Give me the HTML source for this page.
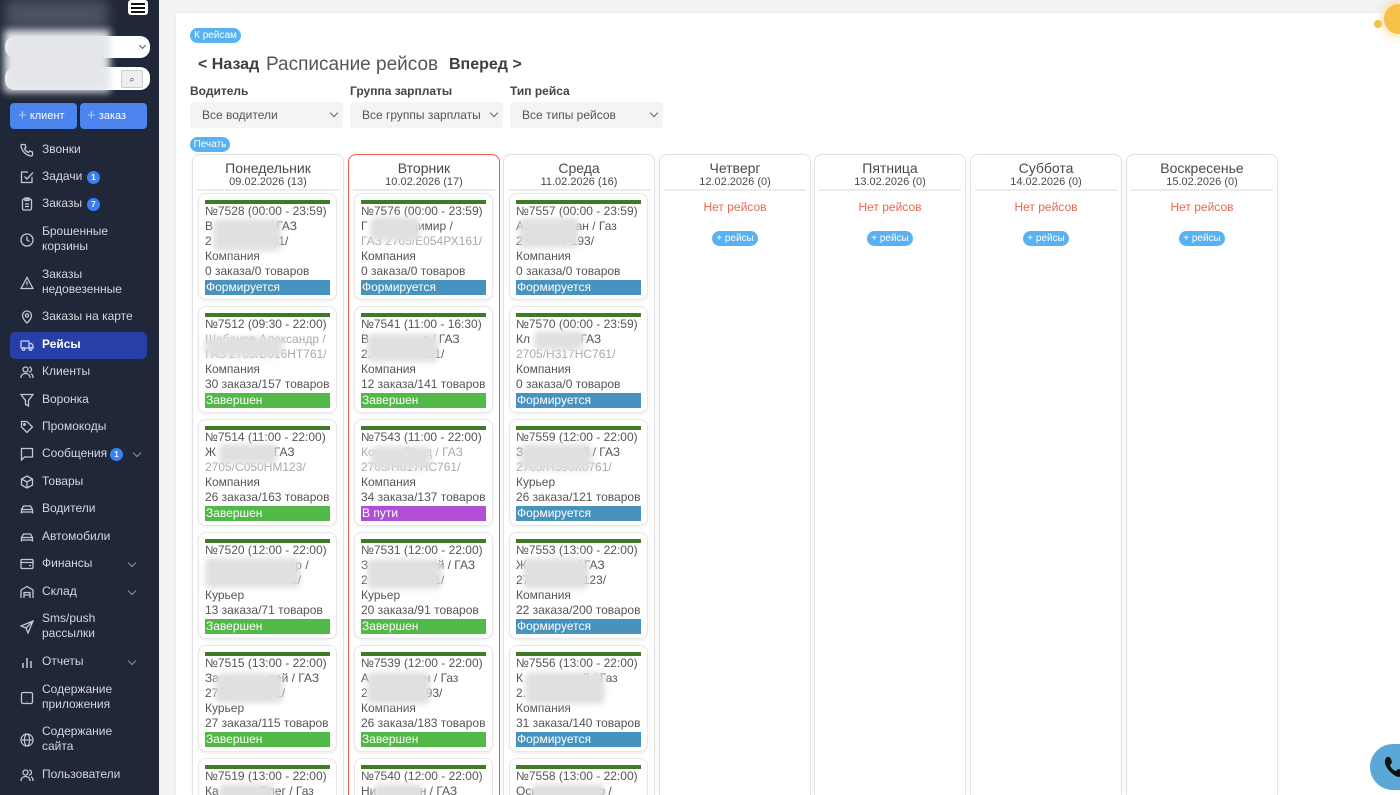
<!DOCTYPE html>
<html><head><meta charset="utf-8">
<style>
*{margin:0;padding:0;box-sizing:border-box}
html,body{width:1400px;height:795px;overflow:hidden;background:#f3f3f4;font-family:"Liberation Sans",sans-serif}
#root{position:relative;width:1400px;height:795px;overflow:hidden;background:#f3f3f4}
.sb{position:absolute;left:0;top:0;width:159px;height:795px;background:#1f2738}
.mi{position:absolute;left:42px;font-size:12px;line-height:15px;color:#d3d7de;white-space:nowrap}
.ic{position:absolute;left:20px;width:14px;height:14px}
.ic svg{width:14px;height:14px;display:block}
.bd{position:absolute;width:13px;height:13px;border-radius:50%;background:#3c7ff0;color:#fff;font-size:8px;font-weight:bold;line-height:13px;text-align:center}
.chev{position:absolute;width:6px;height:6px;border-right:1.2px solid #8c93a0;border-bottom:1.2px solid #8c93a0;transform:rotate(45deg)}
.main{position:absolute;left:175px;top:12px;width:1225px;height:783px;background:#fff;border:1px solid #ececec;border-right:none;border-bottom:none;border-radius:4px 0 0 0}
.pill{position:absolute;background:#58b2f2;color:#fff;font-size:10px;border-radius:8px;text-align:center}
.lbl{position:absolute;top:84px;font-size:12px;font-weight:bold;color:#444}
.sel{position:absolute;top:102px;width:153px;height:26px;background:#f4f4f5;border-radius:3px;font-size:12px;color:#555;line-height:26px;padding-left:12px}
.sel:after{content:"";position:absolute;right:6px;top:8px;width:5px;height:5px;border-right:1.2px solid #666;border-bottom:1.2px solid #666;transform:rotate(45deg)}
.col{position:absolute;top:154px;width:152px;height:641px;border:1px solid #e2e2e2;border-bottom:none;border-radius:8px 8px 0 0;background:#fff;box-shadow:0 0 3px rgba(0,0,0,.06);overflow:hidden}
.col.red{border:1.5px solid #e8604c;border-bottom:none}
.dn{position:absolute;left:0;right:0;top:5px;text-align:center;font-size:14px;color:#4a4a4a;line-height:16px}
.dd{position:absolute;left:0;right:0;top:21px;text-align:center;font-size:11px;color:#4a4a4a;line-height:13px}
.sep{position:absolute;left:4px;right:4px;top:34px;height:2px;background:#ececec}
.none{position:absolute;left:0;right:0;top:45px;text-align:center;font-size:12px;color:#e9664f}
.plus{position:absolute;top:76px;left:52px;width:46px;height:15px;line-height:15px;background:#58b2f2;color:#fff;font-size:10px;border-radius:8px;text-align:center}
.card{position:absolute;left:5px;width:139px;height:107px;border:1px solid #e7e7e7;border-radius:8px;padding:6px 6px 0 6px;background:#fff;box-shadow:0 1px 3px rgba(0,0,0,.08);overflow:hidden}
.card.last{height:38px;border-bottom:none;border-radius:8px 8px 0 0;box-shadow:none}
.gb{height:4px;background:#3f7a24}
.t{font-size:12px;line-height:15px;color:#555;white-space:nowrap;overflow:hidden}
.fd{color:#a9a9a9}
.st{margin-top:1px;height:15px;font-size:12px;line-height:15px;color:#fff;padding-left:1px}
.f{background:#4893be}.z{background:#52b848}.v{background:#b04fd6}
.bl{position:absolute;background:#e0e0e0;filter:blur(3px);border-radius:6px}
</style></head><body><div id="root">

<div class="sb">
  <div style="position:absolute;left:5px;top:0;width:103px;height:28px;background:#4b5260;filter:blur(6px)"></div>
  <div style="position:absolute;left:128px;top:0;width:20px;height:15px;background:#fff;border-radius:3px"></div>
  <div style="position:absolute;left:131px;top:3px;width:14px;height:2px;background:#111"></div>
  <div style="position:absolute;left:131px;top:7px;width:14px;height:2px;background:#111"></div>
  <div style="position:absolute;left:131px;top:11px;width:14px;height:2px;background:#111"></div>
  <div style="position:absolute;left:5px;top:36px;width:145px;height:22px;background:#fff;border-radius:10px"></div>
  <div style="position:absolute;left:140px;top:43px;width:5px;height:5px;border-right:1.2px solid #555;border-bottom:1.2px solid #555;transform:rotate(45deg)"></div>
  <div style="position:absolute;left:5px;top:67px;width:145px;height:23px;background:#fff;border-radius:10px"></div>
  <div style="position:absolute;left:121px;top:70px;width:22px;height:18px;background:#eee;border:1px solid #ccc;border-radius:2px;font-size:9px;text-align:center;line-height:16px;color:#333">&#x2315;</div>
  <div style="position:absolute;left:4px;top:30px;width:106px;height:62px;background:#e4e6ea;filter:blur(4px)"></div>
  <div style="position:absolute;left:10px;top:103px;width:67px;height:26px;background:#4a84ec;border-radius:4px;color:#fff;font-size:11px;line-height:26px;padding-left:8px"><span style="font-size:15px;color:#b7cdf7;vertical-align:-1px">+</span> клиент</div>
  <div style="position:absolute;left:80px;top:103px;width:67px;height:26px;background:#4a84ec;border-radius:4px;color:#fff;font-size:11px;line-height:26px;padding-left:7px"><span style="font-size:15px;color:#b7cdf7;vertical-align:-1px">+</span> заказ</div>

  <div style="position:absolute;left:10px;top:332px;width:137px;height:27px;background:#273fa6;border-radius:5px"></div>

  <div class="ic" style="top:143px"><svg viewBox="0 0 14 14" fill="none" stroke="#c3c8d1" stroke-width="1.3"><path d="M2 1.5h3l1 3-1.5 1a7 7 0 0 0 4 4l1-1.5 3 1v3c0 .5-.5 1-1 1C6 12.5 1.5 8 1 2.5c0-.5.5-1 1-1z"/></svg></div>
  <div class="mi" style="top:142px">Звонки</div>

  <div class="ic" style="top:170px"><svg viewBox="0 0 14 14" fill="none" stroke="#c3c8d1" stroke-width="1.3"><path d="M12 7v5.5H1.5V2H8"/><path d="M4.5 6.5l2.5 2.5 6-6.5"/></svg></div>
  <div class="mi" style="top:169px">Задачи</div><div class="bd" style="left:87px;top:171px">1</div>

  <div class="ic" style="top:197px"><svg viewBox="0 0 14 14" fill="none" stroke="#c3c8d1" stroke-width="1.3"><rect x="2.5" y="2" width="9" height="11" rx="1.5"/><rect x="5" y="1" width="4" height="2.5"/><path d="M5 7h4M5 9.5h4"/></svg></div>
  <div class="mi" style="top:196px">Заказы</div><div class="bd" style="left:87px;top:198px">7</div>

  <div class="ic" style="top:233px"><svg viewBox="0 0 14 14" fill="none" stroke="#c3c8d1" stroke-width="1.3"><circle cx="7" cy="7" r="6"/><path d="M7 3.5V7l2.5 1.5"/></svg></div>
  <div class="mi" style="top:224px">Брошенные<br>корзины</div>

  <div class="ic" style="top:276px"><svg viewBox="0 0 14 14" fill="none" stroke="#c3c8d1" stroke-width="1.3"><path d="M7 1.5L13 12.5H1z"/><path d="M7 5.5v3.5M7 10.5v.5"/></svg></div>
  <div class="mi" style="top:267px">Заказы<br>недовезенные</div>

  <div class="ic" style="top:310px"><svg viewBox="0 0 14 14" fill="none" stroke="#c3c8d1" stroke-width="1.3"><path d="M7 13s-4.5-4-4.5-7.5a4.5 4.5 0 0 1 9 0C11.5 9 7 13 7 13z"/><circle cx="7" cy="5.5" r="1.6"/></svg></div>
  <div class="mi" style="top:309px">Заказы на карте</div>

  <div class="ic" style="top:338px"><svg viewBox="0 0 14 14" fill="none" stroke="#c9d3f5" stroke-width="1.3"><rect x="1" y="3" width="8" height="7" rx="1"/><path d="M9 5.5h2.5l1.5 2v2.5H9"/><circle cx="3.5" cy="11" r="1.3"/><circle cx="10.5" cy="11" r="1.3"/></svg></div>
  <div class="mi" style="top:337px;color:#fff;font-weight:bold">Рейсы</div>

  <div class="ic" style="top:365px"><svg viewBox="0 0 14 14" fill="none" stroke="#c3c8d1" stroke-width="1.3"><circle cx="5.5" cy="4.5" r="2.5"/><path d="M1 13c0-3 2-4.5 4.5-4.5S10 10 10 13"/><path d="M9 2a2.5 2.5 0 0 1 0 5M11 8.7c1.3.6 2 2 2 4.3"/></svg></div>
  <div class="mi" style="top:364px">Клиенты</div>

  <div class="ic" style="top:393px"><svg viewBox="0 0 14 14" fill="none" stroke="#c3c8d1" stroke-width="1.3"><path d="M1 1.5h12L8.5 7.5V13l-3-1.5v-4z"/></svg></div>
  <div class="mi" style="top:392px">Воронка</div>

  <div class="ic" style="top:420px"><svg viewBox="0 0 14 14" fill="none" stroke="#c3c8d1" stroke-width="1.3"><path d="M1.5 1.5h5.5l5.5 5.5-5.5 5.5-5.5-5.5z"/><circle cx="4.5" cy="4.5" r=".8"/></svg></div>
  <div class="mi" style="top:419px">Промокоды</div>

  <div class="ic" style="top:447px"><svg viewBox="0 0 14 14" fill="none" stroke="#c3c8d1" stroke-width="1.3"><path d="M1.5 1.5h11v8.5H4.5L1.5 13z"/></svg></div>
  <div class="mi" style="top:446px">Сообщения</div><div class="bd" style="left:110px;top:448px">1</div><div class="chev" style="left:134px;top:450px"></div>

  <div class="ic" style="top:475px"><svg viewBox="0 0 14 14" fill="none" stroke="#c3c8d1" stroke-width="1.3"><path d="M7 1l5.5 3v6L7 13l-5.5-3V4z"/><path d="M1.5 4L7 7l5.5-3M7 7v6"/></svg></div>
  <div class="mi" style="top:474px">Товары</div>

  <div class="ic" style="top:502px"><svg viewBox="0 0 14 14" fill="none" stroke="#c3c8d1" stroke-width="1.3"><path d="M1.5 10V7.5L3.5 4h7l2 3.5V10z"/><path d="M1.5 10v1.5M12.5 10v1.5M1.5 7.5h11"/></svg></div>
  <div class="mi" style="top:501px">Водители</div>

  <div class="ic" style="top:530px"><svg viewBox="0 0 14 14" fill="none" stroke="#c3c8d1" stroke-width="1.3"><path d="M1.5 10V7.5L3.5 4h7l2 3.5V10z"/><path d="M1.5 10v1.5M12.5 10v1.5M1.5 7.5h11"/></svg></div>
  <div class="mi" style="top:529px">Автомобили</div>

  <div class="ic" style="top:557px"><svg viewBox="0 0 14 14" fill="none" stroke="#c3c8d1" stroke-width="1.3"><rect x="1" y="2.5" width="12" height="9" rx="1"/><path d="M1 5.5h12M9 8.5h2"/></svg></div>
  <div class="mi" style="top:556px">Финансы</div><div class="chev" style="left:129px;top:560px"></div>

  <div class="ic" style="top:585px"><svg viewBox="0 0 14 14" fill="none" stroke="#c3c8d1" stroke-width="1.3"><path d="M1 5L7 1.5 13 5v8M1 5v8"/><path d="M4 13V7.5h6V13M4 10h6"/></svg></div>
  <div class="mi" style="top:584px">Склад</div><div class="chev" style="left:129px;top:588px"></div>

  <div class="ic" style="top:620px"><svg viewBox="0 0 14 14" fill="none" stroke="#c3c8d1" stroke-width="1.3"><path d="M13 1L1 6l5 2 2 5z"/><path d="M6 8l7-7"/></svg></div>
  <div class="mi" style="top:611px">Sms/push<br>рассылки</div>

  <div class="ic" style="top:655px"><svg viewBox="0 0 14 14" fill="none" stroke="#c3c8d1" stroke-width="1.5"><path d="M3 13V8M7 13V3M11 13V6"/></svg></div>
  <div class="mi" style="top:654px">Отчеты</div><div class="chev" style="left:129px;top:658px"></div>

  <div class="ic" style="top:691px"><svg viewBox="0 0 14 14" fill="none" stroke="#c3c8d1" stroke-width="1.3"><rect x="1.5" y="1.5" width="11" height="11" rx="1.5"/><path d="M7 10v.5"/></svg></div>
  <div class="mi" style="top:682px">Содержание<br>приложения</div>

  <div class="ic" style="top:733px"><svg viewBox="0 0 14 14" fill="none" stroke="#c3c8d1" stroke-width="1.2"><circle cx="7" cy="7" r="6"/><ellipse cx="7" cy="7" rx="2.6" ry="6"/><path d="M1 7h12"/></svg></div>
  <div class="mi" style="top:724px">Содержание<br>сайта</div>

  <div class="ic" style="top:768px"><svg viewBox="0 0 14 14" fill="none" stroke="#c3c8d1" stroke-width="1.3"><circle cx="5.5" cy="4.5" r="2.5"/><path d="M1 13c0-3 2-4.5 4.5-4.5S10 10 10 13"/><path d="M9 2a2.5 2.5 0 0 1 0 5M11 8.7c1.3.6 2 2 2 4.3"/></svg></div>
  <div class="mi" style="top:767px">Пользователи</div>
</div>

<div class="main"></div>

<div class="pill" style="left:190px;top:28px;width:51px;height:15px;line-height:15px">К рейсам</div>
<div style="position:absolute;left:198px;top:54px;font-size:16px;font-weight:bold;color:#3f3f3f;line-height:22px;white-space:nowrap">&lt; Назад</div>
<div style="position:absolute;left:266px;top:53px;font-size:19px;color:#555;line-height:24px;white-space:nowrap">Расписание рейсов</div>
<div style="position:absolute;left:449px;top:54px;font-size:16px;font-weight:bold;color:#3f3f3f;line-height:22px;white-space:nowrap">Вперед &gt;</div>

<div class="lbl" style="left:190px">Водитель</div>
<div class="lbl" style="left:350px">Группа зарплаты</div>
<div class="lbl" style="left:510px">Тип рейса</div>
<div class="sel" style="left:190px">Все водители</div>
<div class="sel" style="left:350px">Все группы зарплаты</div>
<div class="sel" style="left:510px">Все типы рейсов</div>

<div class="pill" style="left:190px;top:137px;width:40px;height:15px;line-height:15px">Печать</div>

<!-- Monday -->
<div class="col" style="left:192px">
  <div class="dn">Понедельник</div><div class="dd">09.02.2026 (13)</div><div class="sep"></div>
  <div class="card" style="top:38px"><div class="gb"></div>
    <div class="t">№7528 (00:00 - 23:59)</div><div class="t">В&nbsp;&nbsp;&nbsp;&nbsp;&nbsp;&nbsp;&nbsp;&nbsp;&nbsp;&nbsp;&nbsp;&nbsp;ия / ГАЗ</div><div class="t">2&nbsp;&nbsp;&nbsp;&nbsp;&nbsp;&nbsp;&nbsp;&nbsp;&nbsp;&nbsp;&nbsp;&nbsp;&nbsp;&nbsp;&nbsp;&nbsp;161/</div><div class="t">Компания</div><div class="t">0 заказа/0 товаров</div><div class="st f">Формируется</div>
    <div class="bl" style="left:14px;top:25px;width:68px;height:32px"></div></div>
  <div class="card" style="top:151px"><div class="gb"></div>
    <div class="t">№7512 (09:30 - 22:00)</div><div class="t fd">Шабанов Александр /</div><div class="t fd">ГАЗ 2705/В016НТ761/</div><div class="t">Компания</div><div class="t">30 заказа/157 товаров</div><div class="st z">Завершен</div>
    <div class="bl" style="left:6px;top:30px;width:78px;height:20px"></div></div>
  <div class="card" style="top:264px"><div class="gb"></div>
    <div class="t">№7514 (11:00 - 22:00)</div><div class="t">Ж&nbsp;&nbsp;&nbsp;&nbsp;&nbsp;&nbsp;&nbsp;&nbsp;&nbsp;&nbsp;&nbsp;&nbsp;&nbsp;г / ГАЗ</div><div class="t fd">2705/С050НМ123/</div><div class="t">Компания</div><div class="t">26 заказа/163 товаров</div><div class="st z">Завершен</div>
    <div class="bl" style="left:20px;top:24px;width:58px;height:20px"></div></div>
  <div class="card" style="top:377px"><div class="gb"></div>
    <div class="t">№7520 (12:00 - 22:00)</div><div class="t">&nbsp;&nbsp;&nbsp;&nbsp;&nbsp;&nbsp;&nbsp;&nbsp;&nbsp;&nbsp;&nbsp;&nbsp;&nbsp;&nbsp;&nbsp;&nbsp;&nbsp;&nbsp;&nbsp;&nbsp;&nbsp;&nbsp;&nbsp;ндр /</div><div class="t">&nbsp;&nbsp;&nbsp;&nbsp;&nbsp;&nbsp;&nbsp;&nbsp;&nbsp;&nbsp;&nbsp;&nbsp;&nbsp;&nbsp;&nbsp;&nbsp;&nbsp;&nbsp;&nbsp;&nbsp;&nbsp;&nbsp;&nbsp;l61/</div><div class="t">Курьер</div><div class="t">13 заказа/71 товаров</div><div class="st z">Завершен</div>
    <div class="bl" style="left:6px;top:25px;width:95px;height:30px"></div></div>
  <div class="card" style="top:490px"><div class="gb"></div>
    <div class="t">№7515 (13:00 - 22:00)</div><div class="t">За&nbsp;&nbsp;&nbsp;&nbsp;&nbsp;&nbsp;&nbsp;&nbsp;&nbsp;&nbsp;&nbsp;&nbsp;&nbsp;&nbsp;&nbsp;сей / ГАЗ</div><div class="t">27&nbsp;&nbsp;&nbsp;&nbsp;&nbsp;&nbsp;&nbsp;&nbsp;&nbsp;&nbsp;&nbsp;&nbsp;&nbsp;&nbsp;&nbsp;61/</div><div class="t">Курьер</div><div class="t">27 заказа/115 товаров</div><div class="st z">Завершен</div>
    <div class="bl" style="left:16px;top:27px;width:68px;height:30px"></div></div>
  <div class="card last" style="top:603px"><div class="gb"></div>
    <div class="t">№7519 (13:00 - 22:00)</div><div class="t">Ка&nbsp;&nbsp;&nbsp;&nbsp;&nbsp;&nbsp;&nbsp;&nbsp;&nbsp;&nbsp;&nbsp;&nbsp;Олег / Газ</div>
    <div class="bl" style="left:20px;top:25px;width:56px;height:17px"></div></div>
</div>

<!-- Tuesday -->
<div class="col red" style="left:348px">
  <div class="dn" style="top:5px">Вторник</div><div class="dd">10.02.2026 (17)</div><div class="sep"></div>
  <div class="card" style="top:38px"><div class="gb"></div>
    <div class="t">№7576 (00:00 - 23:59)</div><div class="t">Г&nbsp;&nbsp;&nbsp;&nbsp;&nbsp;&nbsp;&nbsp;&nbsp;&nbsp;&nbsp;&nbsp;адимир /</div><div class="t fd">ГАЗ 2705/Е054РХ161/</div><div class="t">Компания</div><div class="t">0 заказа/0 товаров</div><div class="st f">Формируется</div>
    <div class="bl" style="left:15px;top:23px;width:50px;height:24px"></div></div>
  <div class="card" style="top:151px"><div class="gb"></div>
    <div class="t">№7541 (11:00 - 16:30)</div><div class="t">В&nbsp;&nbsp;&nbsp;&nbsp;&nbsp;&nbsp;&nbsp;&nbsp;&nbsp;&nbsp;&nbsp;&nbsp;&nbsp;&nbsp;&nbsp;&nbsp;я / ГАЗ</div><div class="t">2.&nbsp;&nbsp;&nbsp;&nbsp;&nbsp;&nbsp;&nbsp;&nbsp;&nbsp;&nbsp;&nbsp;&nbsp;&nbsp;&nbsp;&nbsp;161/</div><div class="t">Компания</div><div class="t">12 заказа/141 товаров</div><div class="st z">Завершен</div>
    <div class="bl" style="left:12px;top:27px;width:72px;height:28px"></div></div>
  <div class="card" style="top:264px"><div class="gb"></div>
    <div class="t">№7543 (11:00 - 22:00)</div><div class="t fd">Козлов Влад / ГАЗ</div><div class="t fd">2705/Н017НС761/</div><div class="t">Компания</div><div class="t">34 заказа/137 товаров</div><div class="st v">В пути</div>
    <div class="bl" style="left:16px;top:26px;width:60px;height:23px"></div></div>
  <div class="card" style="top:377px"><div class="gb"></div>
    <div class="t">№7531 (12:00 - 22:00)</div><div class="t">З&nbsp;&nbsp;&nbsp;&nbsp;&nbsp;&nbsp;&nbsp;&nbsp;&nbsp;&nbsp;&nbsp;&nbsp;&nbsp;&nbsp;&nbsp;&nbsp;&nbsp;сей / ГАЗ</div><div class="t">2&nbsp;&nbsp;&nbsp;&nbsp;&nbsp;&nbsp;&nbsp;&nbsp;&nbsp;&nbsp;&nbsp;&nbsp;&nbsp;&nbsp;&nbsp;&nbsp;&nbsp;&nbsp;61/</div><div class="t">Курьер</div><div class="t">20 заказа/91 товаров</div><div class="st z">Завершен</div>
    <div class="bl" style="left:12px;top:26px;width:75px;height:30px"></div></div>
  <div class="card" style="top:490px"><div class="gb"></div>
    <div class="t">№7539 (12:00 - 22:00)</div><div class="t">А&nbsp;&nbsp;&nbsp;&nbsp;&nbsp;&nbsp;&nbsp;&nbsp;&nbsp;&nbsp;&nbsp;&nbsp;ман / Газ</div><div class="t">2&nbsp;&nbsp;&nbsp;&nbsp;&nbsp;&nbsp;&nbsp;&nbsp;&nbsp;&nbsp;&nbsp;&nbsp;&nbsp;Р193/</div><div class="t">Компания</div><div class="t">26 заказа/183 товаров</div><div class="st z">Завершен</div>
    <div class="bl" style="left:12px;top:26px;width:63px;height:32px"></div></div>
  <div class="card last" style="top:603px"><div class="gb"></div>
    <div class="t">№7540 (12:00 - 22:00)</div><div class="t">Ни&nbsp;&nbsp;&nbsp;&nbsp;&nbsp;&nbsp;&nbsp;&nbsp;&nbsp;&nbsp;&nbsp;он / ГАЗ</div>
    <div class="bl" style="left:18px;top:25px;width:50px;height:17px"></div></div>
</div>

<!-- Wednesday -->
<div class="col" style="left:503px">
  <div class="dn">Среда</div><div class="dd">11.02.2026 (16)</div><div class="sep"></div>
  <div class="card" style="top:38px"><div class="gb"></div>
    <div class="t">№7557 (00:00 - 23:59)</div><div class="t">А&nbsp;&nbsp;&nbsp;&nbsp;&nbsp;&nbsp;&nbsp;&nbsp;&nbsp;&nbsp;&nbsp;рман / Газ</div><div class="t">2&nbsp;&nbsp;&nbsp;&nbsp;&nbsp;&nbsp;&nbsp;&nbsp;&nbsp;&nbsp;&nbsp;&nbsp;Р193/</div><div class="t">Компания</div><div class="t">0 заказа/0 товаров</div><div class="st f">Формируется</div>
    <div class="bl" style="left:9px;top:24px;width:60px;height:30px"></div></div>
  <div class="card" style="top:151px"><div class="gb"></div>
    <div class="t">№7570 (00:00 - 23:59)</div><div class="t">Кл&nbsp;&nbsp;&nbsp;&nbsp;&nbsp;&nbsp;&nbsp;&nbsp;ад / ГАЗ</div><div class="t fd">2705/Н317НС761/</div><div class="t">Компания</div><div class="t">0 заказа/0 товаров</div><div class="st f">Формируется</div>
    <div class="bl" style="left:24px;top:24px;width:50px;height:19px"></div></div>
  <div class="card" style="top:264px"><div class="gb"></div>
    <div class="t">№7559 (12:00 - 22:00)</div><div class="t">З&nbsp;&nbsp;&nbsp;&nbsp;&nbsp;&nbsp;&nbsp;&nbsp;&nbsp;&nbsp;&nbsp;&nbsp;&nbsp;&nbsp;сей / ГАЗ</div><div class="t fd">2705/Н390К0761/</div><div class="t">Курьер</div><div class="t">26 заказа/121 товаров</div><div class="st f">Формируется</div>
    <div class="bl" style="left:10px;top:24px;width:72px;height:26px"></div></div>
  <div class="card" style="top:377px"><div class="gb"></div>
    <div class="t">№7553 (13:00 - 22:00)</div><div class="t">Ж&nbsp;&nbsp;&nbsp;&nbsp;&nbsp;&nbsp;&nbsp;&nbsp;&nbsp;&nbsp;&nbsp;&nbsp;&nbsp;&nbsp;&nbsp;/ ГАЗ</div><div class="t">27&nbsp;&nbsp;&nbsp;&nbsp;&nbsp;&nbsp;&nbsp;&nbsp;&nbsp;&nbsp;&nbsp;&nbsp;&nbsp;М123/</div><div class="t">Компания</div><div class="t">22 заказа/200 товаров</div><div class="st f">Формируется</div>
    <div class="bl" style="left:13px;top:25px;width:66px;height:31px"></div></div>
  <div class="card" style="top:490px"><div class="gb"></div>
    <div class="t">№7556 (13:00 - 22:00)</div><div class="t">К&nbsp;&nbsp;&nbsp;&nbsp;&nbsp;&nbsp;&nbsp;&nbsp;&nbsp;&nbsp;&nbsp;&nbsp;&nbsp;&nbsp;&nbsp;&nbsp;ий / Газ</div><div class="t">2.&nbsp;&nbsp;&nbsp;&nbsp;&nbsp;&nbsp;&nbsp;&nbsp;&nbsp;&nbsp;&nbsp;&nbsp;&nbsp;&nbsp;&nbsp;&nbsp;93/</div><div class="t">Компания</div><div class="t">31 заказа/140 товаров</div><div class="st f">Формируется</div>
    <div class="bl" style="left:15px;top:26px;width:80px;height:32px"></div></div>
  <div class="card last" style="top:603px"><div class="gb"></div>
    <div class="t">№7558 (13:00 - 22:00)</div><div class="t">Оси&nbsp;&nbsp;&nbsp;&nbsp;&nbsp;&nbsp;&nbsp;&nbsp;&nbsp;&nbsp;&nbsp;&nbsp;&nbsp;&nbsp;&nbsp;&nbsp;др /</div>
    <div class="bl" style="left:21px;top:25px;width:74px;height:17px"></div></div>
</div>

<div class="col" style="left:659px"><div class="dn">Четверг</div><div class="dd">12.02.2026 (0)</div><div class="sep"></div><div class="none">Нет рейсов</div><div class="plus">+ рейсы</div></div>
<div class="col" style="left:814px"><div class="dn">Пятница</div><div class="dd">13.02.2026 (0)</div><div class="sep"></div><div class="none">Нет рейсов</div><div class="plus">+ рейсы</div></div>
<div class="col" style="left:970px"><div class="dn">Суббота</div><div class="dd">14.02.2026 (0)</div><div class="sep"></div><div class="none">Нет рейсов</div><div class="plus">+ рейсы</div></div>
<div class="col" style="left:1126px"><div class="dn">Воскресенье</div><div class="dd">15.02.2026 (0)</div><div class="sep"></div><div class="none">Нет рейсов</div><div class="plus">+ рейсы</div></div>

<!-- decorations -->
<div style="position:absolute;left:1374px;top:20px;width:8px;height:8px;border-radius:50%;background:#f6bf45"></div>
<div style="position:absolute;left:1384px;top:4px;width:16px;height:30px;border-radius:15px 0 0 15px;background:#f7c048;box-shadow:0 0 8px 3px rgba(250,200,80,.5)"></div>
<div style="position:absolute;left:1370px;top:744px;width:30px;height:46px;border-radius:23px 0 0 23px;background:#5ba8d6"></div>
<div style="position:absolute;left:1380px;top:752px;width:20px;height:30px;overflow:hidden">
<svg viewBox="0 0 30 30" width="30" height="30"><path d="M6 6c2-2 4-1 5 1l1 3c0 1-1 2-2 3 1 3 3 5 6 6 1-1 2-2 3-2l3 1c2 1 3 3 1 5-2 2-5 3-9 0-4-3-6-5-8-9-2-4-1-6 0-8z" fill="#111"/></svg>
</div>
</div></body></html>
